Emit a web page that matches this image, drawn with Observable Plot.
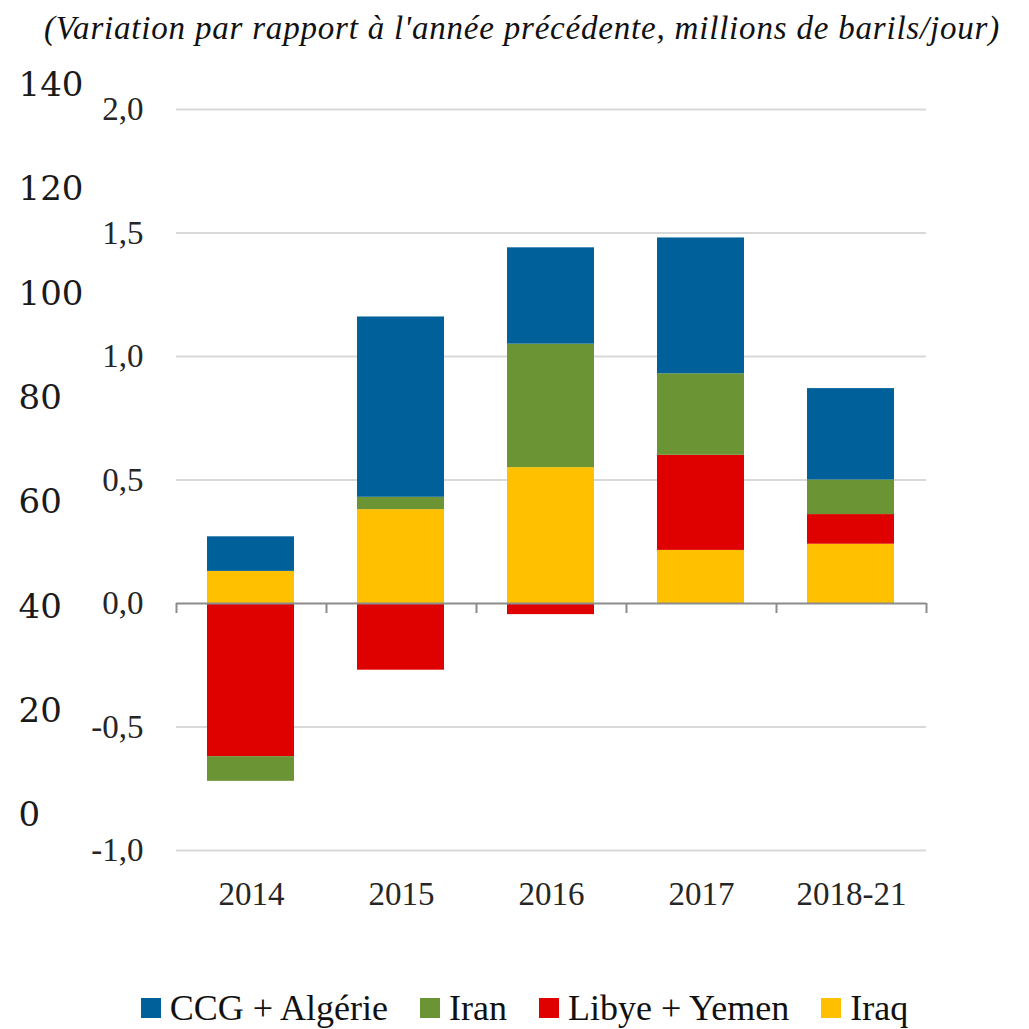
<!DOCTYPE html>
<html><head><meta charset="utf-8">
<script src="https://cdn.jsdelivr.net/npm/d3@7"></script>
<script src="https://cdn.jsdelivr.net/npm/@observablehq/plot@0.6"></script>
<style>
html,body{margin:0;padding:0;background:#fff;}
#root{width:1029px;}
#title{height:56px;line-height:56px;font-family:"Liberation Serif",serif;font-style:italic;font-size:33px;letter-spacing:0.8px;text-align:center;color:#111;white-space:nowrap;padding-left:15px;box-sizing:border-box;width:1029px;}
#chart{position:relative;width:1029px;height:904px;}
#chart svg{position:absolute;left:0;top:0;}
#legend{margin-top:27px;width:1029px;}
div.lg-swatches{font-family:"Liberation Serif",serif;font-size:36px;color:#111;margin:0;}
div.lg-swatches.lg-swatches-wrap{justify-content:center;min-height:40px;padding-left:20px;}
div.lg-swatches span.lg-swatch{margin-right:32px;}
div.lg-swatches span.lg-swatch:last-child{margin-right:0;}
div.lg-swatches span.lg-swatch > svg{margin-right:9px;}
</style>
</head><body>
<div id="root">
  <div id="title">(Variation par rapport à l'année précédente, millions de barils/jour)</div>
  <div id="chart"></div>
  <div id="legend"></div>
</div>
<script>
const categories = ["2014", "2015", "2016", "2017", "2018-21"];
const seriesLegend = ["CCG + Algérie", "Iran", "Libye + Yemen", "Iraq"];
const seriesColors = ["#00609A", "#6B9435", "#DF0000", "#FFC000"];
const ccg   = [0.14, 0.73, 0.39, 0.55, 0.37];
const iran  = [-0.10, 0.05, 0.50, 0.33, 0.14];
const libye = [-0.62, -0.27, -0.045, 0.385, 0.12];
const iraq  = [0.13, 0.38, 0.55, 0.215, 0.24];
const yTicks = [-1, -0.5, 0, 0.5, 1, 1.5, 2];
const ghostTicks = [0, 20, 40, 60, 80, 100, 120, 140];

// stacking order (bottom to top)
const stackOrder = [["Iraq", iraq], ["Libye + Yemen", libye], ["Iran", iran], ["CCG + Algérie", ccg]];
const data = [];
categories.forEach((c, i) => {
  stackOrder.forEach(([s, vals]) => data.push({i, cat: c, series: s, value: vals[i]}));
});
const idx = categories.map((c, i) => i);
const boundaries = categories.map((c, i) => i - 0.5).concat([categories.length - 0.5]);
const gridTicks = yTicks.filter(v => v !== 0);
const fmt = v => v.toFixed(1).replace(".", ",");

const plot = Plot.plot({
  width: 1029, height: 904,
  marginTop: 53, marginBottom: 110, marginLeft: 176, marginRight: 103,
  style: {fontFamily: '"Liberation Serif", serif', fontSize: "33px", color: "#262626", background: "transparent", overflow: "visible"},
  x: {domain: [-0.5, categories.length - 0.5], axis: null, label: null},
  y: {domain: [-1, 2], axis: null, label: null},
  color: {domain: seriesLegend, range: seriesColors},
  marks: [
    Plot.ruleY(gridTicks, {stroke: "#d9d9d9", strokeWidth: 2}),
    Plot.rectY(data, {x1: d => d.i - 0.5, x2: d => d.i + 0.5, y: "value", fill: "series", insetLeft: 31, insetRight: 32}),
    Plot.ruleY([0], {stroke: "#8c8c8c", strokeWidth: 2}),
    Plot.ruleX(boundaries, {y1: 0, y2: 0, insetBottom: -10, stroke: "#8c8c8c", strokeWidth: 2}),
    Plot.axisY(yTicks, {tickSize: 0, tickPadding: 33, tickFormat: fmt, fontSize: 33, label: null}),
    Plot.axisX(idx, {tickSize: 0, tickPadding: 31, tickFormat: i => categories[i], fontSize: 33, label: null})
  ]
});

const ghost = Plot.plot({
  width: 160, height: 904, margin: 0,
  style: {fontFamily: '"DejaVu Serif", serif', fontSize: "34px", color: "#1a1a1a", background: "transparent", overflow: "visible"},
  y: {domain: [0, 140], range: [759, 28.5], axis: null, label: null},
  marks: [
    Plot.text(ghostTicks, {y: d => d, text: d => String(d), frameAnchor: "left", textAnchor: "start", dx: 18, fontSize: 34})
  ]
});

document.getElementById("chart").append(plot, ghost);
document.getElementById("legend").append(plot.legend("color", {swatchSize: 20, className: "lg"}));
</script>
</body></html>
